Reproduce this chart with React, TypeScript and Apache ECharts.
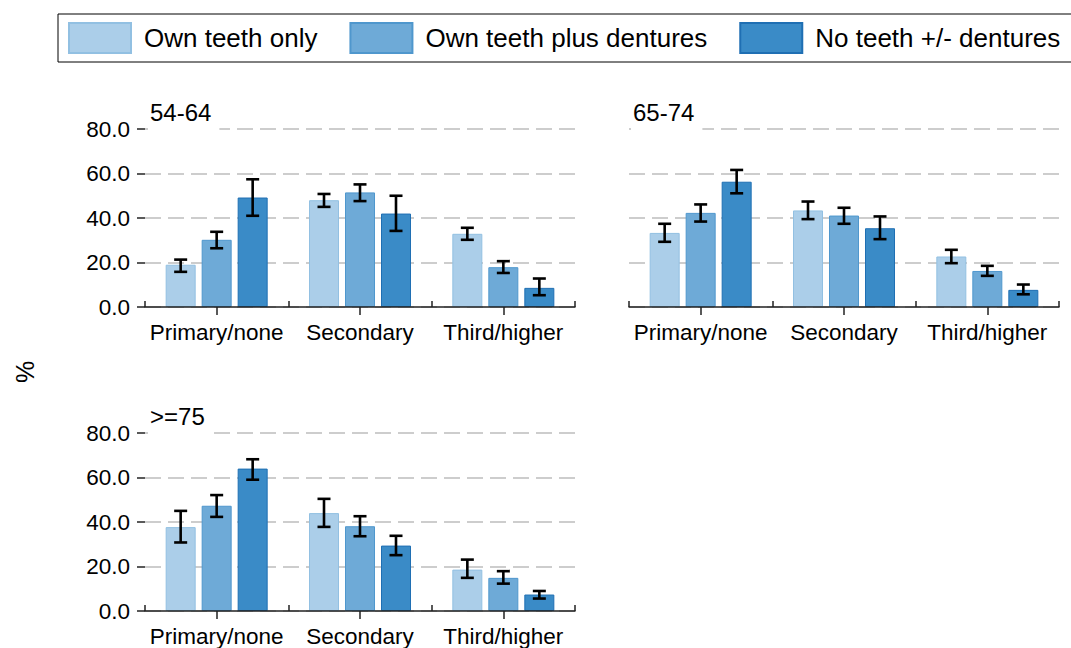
import React, { useEffect, useRef } from "react";
import * as echarts from "echarts";

const categories = ["Primary/none", "Secondary", "Third/higher"];
const seriesNames = ["Own teeth only", "Own teeth plus dentures", "No teeth +/- dentures"];
const panelTitles = ["54-64", "65-74", ">=75"];
const yMin = 0;
const yMax = 80;
const yStep = 20;

// [series][category]
const mean5464 = [
  [19.0, 48.0, 32.9],
  [30.2, 51.5, 17.9],
  [49.2, 42.0, 8.6],
];
const lower5464 = [
  [15.8, 45.0, 30.2],
  [26.4, 47.6, 15.3],
  [41.0, 34.2, 5.3],
];
const upper5464 = [
  [21.3, 50.8, 35.6],
  [33.8, 55.1, 20.6],
  [57.4, 50.0, 12.8],
];

const mean6574 = [
  [33.3, 43.4, 22.7],
  [42.3, 41.1, 16.2],
  [56.3, 35.4, 7.7],
];
const lower6574 = [
  [29.3, 39.5, 19.7],
  [38.4, 37.4, 14.0],
  [51.1, 30.5, 5.7],
];
const upper6574 = [
  [37.4, 47.4, 25.7],
  [46.1, 44.6, 18.5],
  [61.6, 40.7, 10.1],
];

const mean75 = [
  [37.7, 44.0, 18.6],
  [47.3, 38.1, 14.9],
  [64.0, 29.4, 7.4],
];
const lower75 = [
  [30.8, 37.8, 14.9],
  [42.3, 33.6, 12.3],
  [59.0, 25.1, 5.6],
];
const upper75 = [
  [45.0, 50.4, 23.1],
  [52.1, 42.6, 17.9],
  [68.2, 33.8, 9.0],
];

const means = [mean5464, mean6574, mean75];
const lowers = [lower5464, lower6574, lower75];
const uppers = [upper5464, upper6574, upper75];

const fills = ["#abcee9", "#6eaad7", "#3a8bc7"];
const borders = ["#92c0e2", "#4f97cd", "#1f6fb3"];

const FONT = "Liberation Sans";
const BAR_W = 30;
const BAR_STEP = 36;

export default function App() {
  const ref = useRef<HTMLDivElement>(null);

  useEffect(() => {
    if (!ref.current) return;
    const chart = echarts.init(ref.current, null, { renderer: "svg" });

    const grids = [
      { left: 145, top: 129, width: 430, height: 178 },
      { left: 629, top: 129, width: 430, height: 178 },
      { left: 145, top: 433, width: 430, height: 178 },
    ];
    const titlePos = [
      { left: 148, top: 97 },
      { left: 631, top: 97 },
      { left: 148, top: 401 },
    ];

    const axisLineStyle = { color: "#222", width: 1.5 };

    const xAxes: any[] = [];
    const yAxes: any[] = [];
    const series: any[] = [];

    grids.forEach((g, p) => {
      xAxes.push({
        type: "category",
        gridIndex: p,
        position: "bottom",
        data: categories,
        axisLine: { show: true, lineStyle: axisLineStyle },
        axisTick: { show: true, inside: true, length: 6, lineStyle: axisLineStyle },
        axisLabel: { show: false },
        splitLine: { show: false },
        z: 5,
      });
      xAxes.push({
        type: "category",
        gridIndex: p,
        position: "bottom",
        data: categories,
        axisLine: { show: false },
        axisTick: { show: true, alignWithLabel: true, length: 8, lineStyle: axisLineStyle },
        axisLabel: {
          show: true,
          interval: 0,
          hideOverlap: false,
          fontSize: 22.5,
          color: "#000",
          margin: 14,
          fontFamily: FONT,
        },
        splitLine: { show: false },
      });
      const showY = p !== 1;
      yAxes.push({
        type: "value",
        gridIndex: p,
        min: yMin,
        max: yMax,
        interval: yStep,
        axisLine: { show: false },
        axisTick: { show: showY, length: 8, lineStyle: axisLineStyle },
        axisLabel: {
          show: showY,
          fontSize: 22.5,
          color: "#000",
          margin: 15,
          fontFamily: FONT,
          formatter: (v: number) => v.toFixed(1),
        },
        splitLine: { show: true, lineStyle: { color: "#bdbdbd", type: [16, 7], width: 1.5 } },
      });

      seriesNames.forEach((name, s) => {
        series.push({
          type: "bar",
          name,
          xAxisIndex: p * 2,
          yAxisIndex: p,
          data: means[p][s],
          barWidth: BAR_W,
          barGap: "20%",
          itemStyle: { color: fills[s], borderColor: borders[s], borderWidth: 1 },
          emphasis: { disabled: true },
        });
      });
      seriesNames.forEach((name, s) => {
        const off = (s - 1) * BAR_STEP;
        series.push({
          type: "custom",
          xAxisIndex: p * 2,
          yAxisIndex: p,
          z: 10,
          encode: { x: 0, y: [1, 2] },
          data: categories.map((c, j) => [j, lowers[p][s][j], uppers[p][s][j]]),
          renderItem: (params: any, api: any) => {
            const xi = api.value(0);
            const pLo = api.coord([xi, api.value(1)]);
            const pHi = api.coord([xi, api.value(2)]);
            const cx = pLo[0] + off;
            const cap = 6.5;
            const st = { stroke: "#000", lineWidth: 2.6 };
            return {
              type: "group",
              children: [
                { type: "line", shape: { x1: cx, y1: pHi[1], x2: cx, y2: pLo[1] }, style: st },
                { type: "line", shape: { x1: cx - cap, y1: pHi[1], x2: cx + cap, y2: pHi[1] }, style: st },
                { type: "line", shape: { x1: cx - cap, y1: pLo[1], x2: cx + cap, y2: pLo[1] }, style: st },
              ],
            };
          },
        });
      });
    });

    chart.setOption({
      animation: false,
      textStyle: { fontFamily: FONT },
      title: panelTitles.map((t, p) => ({
        text: t,
        left: titlePos[p].left,
        top: titlePos[p].top,
        padding: [3, 8, 7, 2],
        backgroundColor: "#fff",
        textStyle: { fontSize: 24, fontWeight: "normal", color: "#000", fontFamily: FONT },
      })),
      legend: {
        left: 58,
        top: 14,
        width: 1300,
        orient: "horizontal",
        data: seriesNames,
        icon: "rect",
        itemWidth: 62,
        itemHeight: 30,
        itemGap: 32,
        padding: [8, 40, 8, 10],
        borderColor: "#000",
        borderWidth: 1,
        selectedMode: false,
        textStyle: { fontSize: 26, color: "#000", fontFamily: FONT, padding: [0, 0, 0, 8] },
      },
      grid: grids,
      xAxis: xAxes,
      yAxis: yAxes,
      series,
      graphic: [
        {
          type: "text",
          x: 25,
          y: 372,
          rotation: Math.PI / 2,
          style: {
            text: "%",
            fontSize: 25,
            fontFamily: FONT,
            fill: "#000",
            align: "center",
            verticalAlign: "middle",
          },
        },
      ],
    });

    return () => chart.dispose();
  }, []);

  return (
    <div
      ref={ref}
      style={{ position: "fixed", left: 0, top: 0, width: 1071, height: 648, background: "#fff" }}
    />
  );
}
